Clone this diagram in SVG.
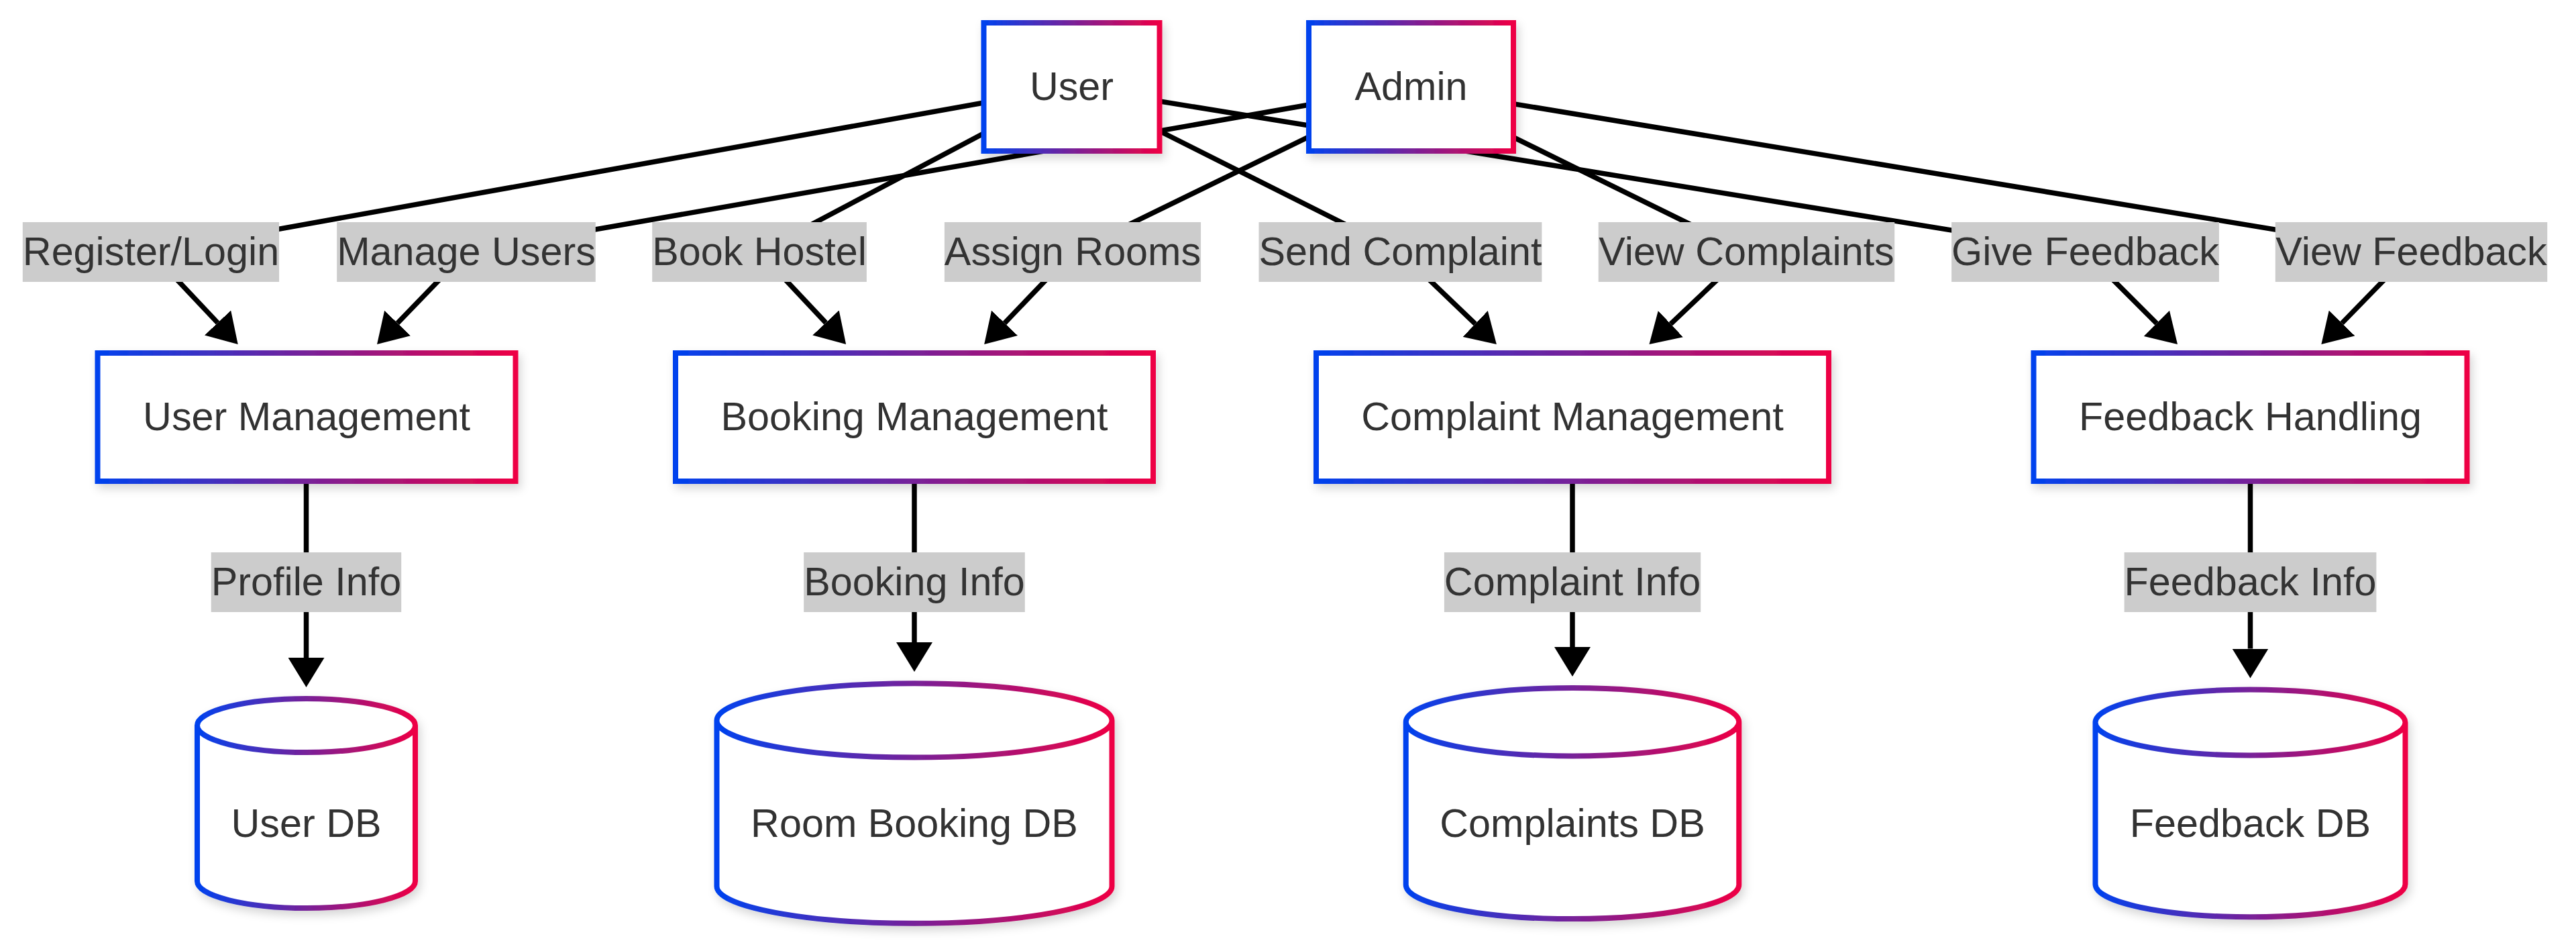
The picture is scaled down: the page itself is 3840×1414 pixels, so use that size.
<svg xmlns="http://www.w3.org/2000/svg" width="3840" height="1414" viewBox="0 0 3840 1414">
<defs>
<linearGradient id="grad" x1="0" y1="0" x2="1" y2="0">
<stop offset="0" stop-color="#0042ee"/>
<stop offset="1" stop-color="#ee0044"/>
</linearGradient>
<filter id="sh" x="-10%" y="-15%" width="125%" height="140%">
<feDropShadow dx="4" dy="7" stdDeviation="7" flood-color="#000" flood-opacity="0.16"/>
</filter>
<marker id="arr" viewBox="0 0 44 54" refX="0" refY="27" markerWidth="44" markerHeight="54" markerUnits="userSpaceOnUse" orient="auto">
<path d="M0,0 L44,27 L0,54 z" fill="#000"/>
</marker>
<style>
.edge{fill:none;stroke:#000;stroke-width:7.5;marker-end:url(#arr)}
.lbl{fill:#cccccc}
.t{font-family:"Liberation Sans",Arial,sans-serif;font-size:59.3px;fill:#333;text-anchor:middle}
.box{fill:#fff;stroke:url(#grad);stroke-width:8}
.node{filter:url(#sh)}
</style>
</defs>
<rect width="3840" height="1414" fill="#fff"/>
<g id="connectors">
<path class="edge" d="M1597.5,129.5 L225,375.5 L324.5,481"/>
<path class="edge" d="M2103.5,129.5 L695,375.5 L592.6,481.4"/>
<path class="edge" d="M1597.5,129.5 L1132,375.5 L1231,480.9"/>
<path class="edge" d="M2103.5,129.5 L1599,375.5 L1497.6,481.3"/>
<path class="edge" d="M1597.5,129.5 L2087.5,375.5 L2199.1,482.5"/>
<path class="edge" d="M2103.5,129.5 L2603.5,375.5 L2490.4,482.7"/>
<path class="edge" d="M1597.5,129.5 L3108.5,375.5 L3214.9,481.9"/>
<path class="edge" d="M2103.5,129.5 L3594.5,375.5 L3491.1,481.5"/>
<path class="edge" d="M456.5,621.5 L456.5,867.5 L456.5,980"/>
<path class="edge" d="M1363,621.5 L1363,867.5 L1363,957"/>
<path class="edge" d="M2344,621.5 L2344,867.5 L2344,964"/>
<path class="edge" d="M3354.5,621.5 L3354.5,867.5 L3354.5,966.5"/>
<g id="edge-labels">
<rect class="lbl" x="33.8" y="331" width="382.3" height="89"/><text class="t" x="225" y="394.5">Register/Login</text>
<rect class="lbl" x="502.2" y="331" width="385.6" height="89"/><text class="t" x="695" y="394.5">Manage Users</text>
<rect class="lbl" x="972.2" y="331" width="319.7" height="89"/><text class="t" x="1132" y="394.5">Book Hostel</text>
<rect class="lbl" x="1407.9" y="331" width="382.2" height="89"/><text class="t" x="1599" y="394.5">Assign Rooms</text>
<rect class="lbl" x="1876.5" y="331" width="421.9" height="89"/><text class="t" x="2087.5" y="394.5">Send Complaint</text>
<rect class="lbl" x="2382.7" y="331" width="441.5" height="89"/><text class="t" x="2603.5" y="394.5">View Complaints</text>
<rect class="lbl" x="2909.1" y="331" width="398.8" height="89"/><text class="t" x="3108.5" y="394.5">Give Feedback</text>
<rect class="lbl" x="3391.8" y="331" width="405.4" height="89"/><text class="t" x="3594.5" y="394.5">View Feedback</text>
<rect class="lbl" x="314.7" y="823" width="283.5" height="89"/><text class="t" x="456.5" y="886.5">Profile Info</text>
<rect class="lbl" x="1198.2" y="823" width="329.6" height="89"/><text class="t" x="1363" y="886.5">Booking Info</text>
<rect class="lbl" x="2152.9" y="823" width="382.3" height="89"/><text class="t" x="2344" y="886.5">Complaint Info</text>
<rect class="lbl" x="3166.6" y="823" width="375.8" height="89"/><text class="t" x="3354.5" y="886.5">Feedback Info</text>
</g>
</g>
<g id="node-user" class="node"><rect class="box" x="1466.5" y="34" width="262" height="191"/><text class="t" x="1597.5" y="148.5">User</text></g>
<g id="node-admin" class="node"><rect class="box" x="1951" y="34" width="305" height="191"/><text class="t" x="2103.5" y="148.5">Admin</text></g>
<g id="node-user-management" class="node"><rect class="box" x="145.5" y="526" width="623" height="191"/><text class="t" x="457" y="640.5">User Management</text></g>
<g id="node-booking-management" class="node"><rect class="box" x="1007" y="526" width="712" height="191"/><text class="t" x="1363" y="640.5">Booking Management</text></g>
<g id="node-complaint-management" class="node"><rect class="box" x="1962" y="526" width="764" height="191"/><text class="t" x="2344" y="640.5">Complaint Management</text></g>
<g id="node-feedback-handling" class="node"><rect class="box" x="3031.5" y="526" width="646" height="191"/><text class="t" x="3354.5" y="640.5">Feedback Handling</text></g>
<g id="node-user-db" class="node"><path class="box" d="M294,1081 a162.5,40 0 0 0 325,0 a162.5,40 0 0 0 -325,0 l0,232 a162.5,40 0 0 0 325,0 l0,-232"/><text class="t" x="456.5" y="1247">User DB</text></g>
<g id="node-room-booking-db" class="node"><path class="box" d="M1068.5,1073.4 a294.5,55.2 0 0 0 589,0 a294.5,55.2 0 0 0 -589,0 l0,247.2 a294.5,55.2 0 0 0 589,0 l0,-247.2"/><text class="t" x="1363" y="1247">Room Booking DB</text></g>
<g id="node-complaints-db" class="node"><path class="box" d="M2095.75,1075.7 a248.25,50.7 0 0 0 496.5,0 a248.25,50.7 0 0 0 -496.5,0 l0,242.7 a248.25,50.7 0 0 0 496.5,0 l0,-242.7"/><text class="t" x="2344" y="1247">Complaints DB</text></g>
<g id="node-feedback-db" class="node"><path class="box" d="M3123.5,1076.5 a231,48.9 0 0 0 462,0 a231,48.9 0 0 0 -462,0 l0,240.9 a231,48.9 0 0 0 462,0 l0,-240.9"/><text class="t" x="3354.5" y="1247">Feedback DB</text></g>
</svg>
